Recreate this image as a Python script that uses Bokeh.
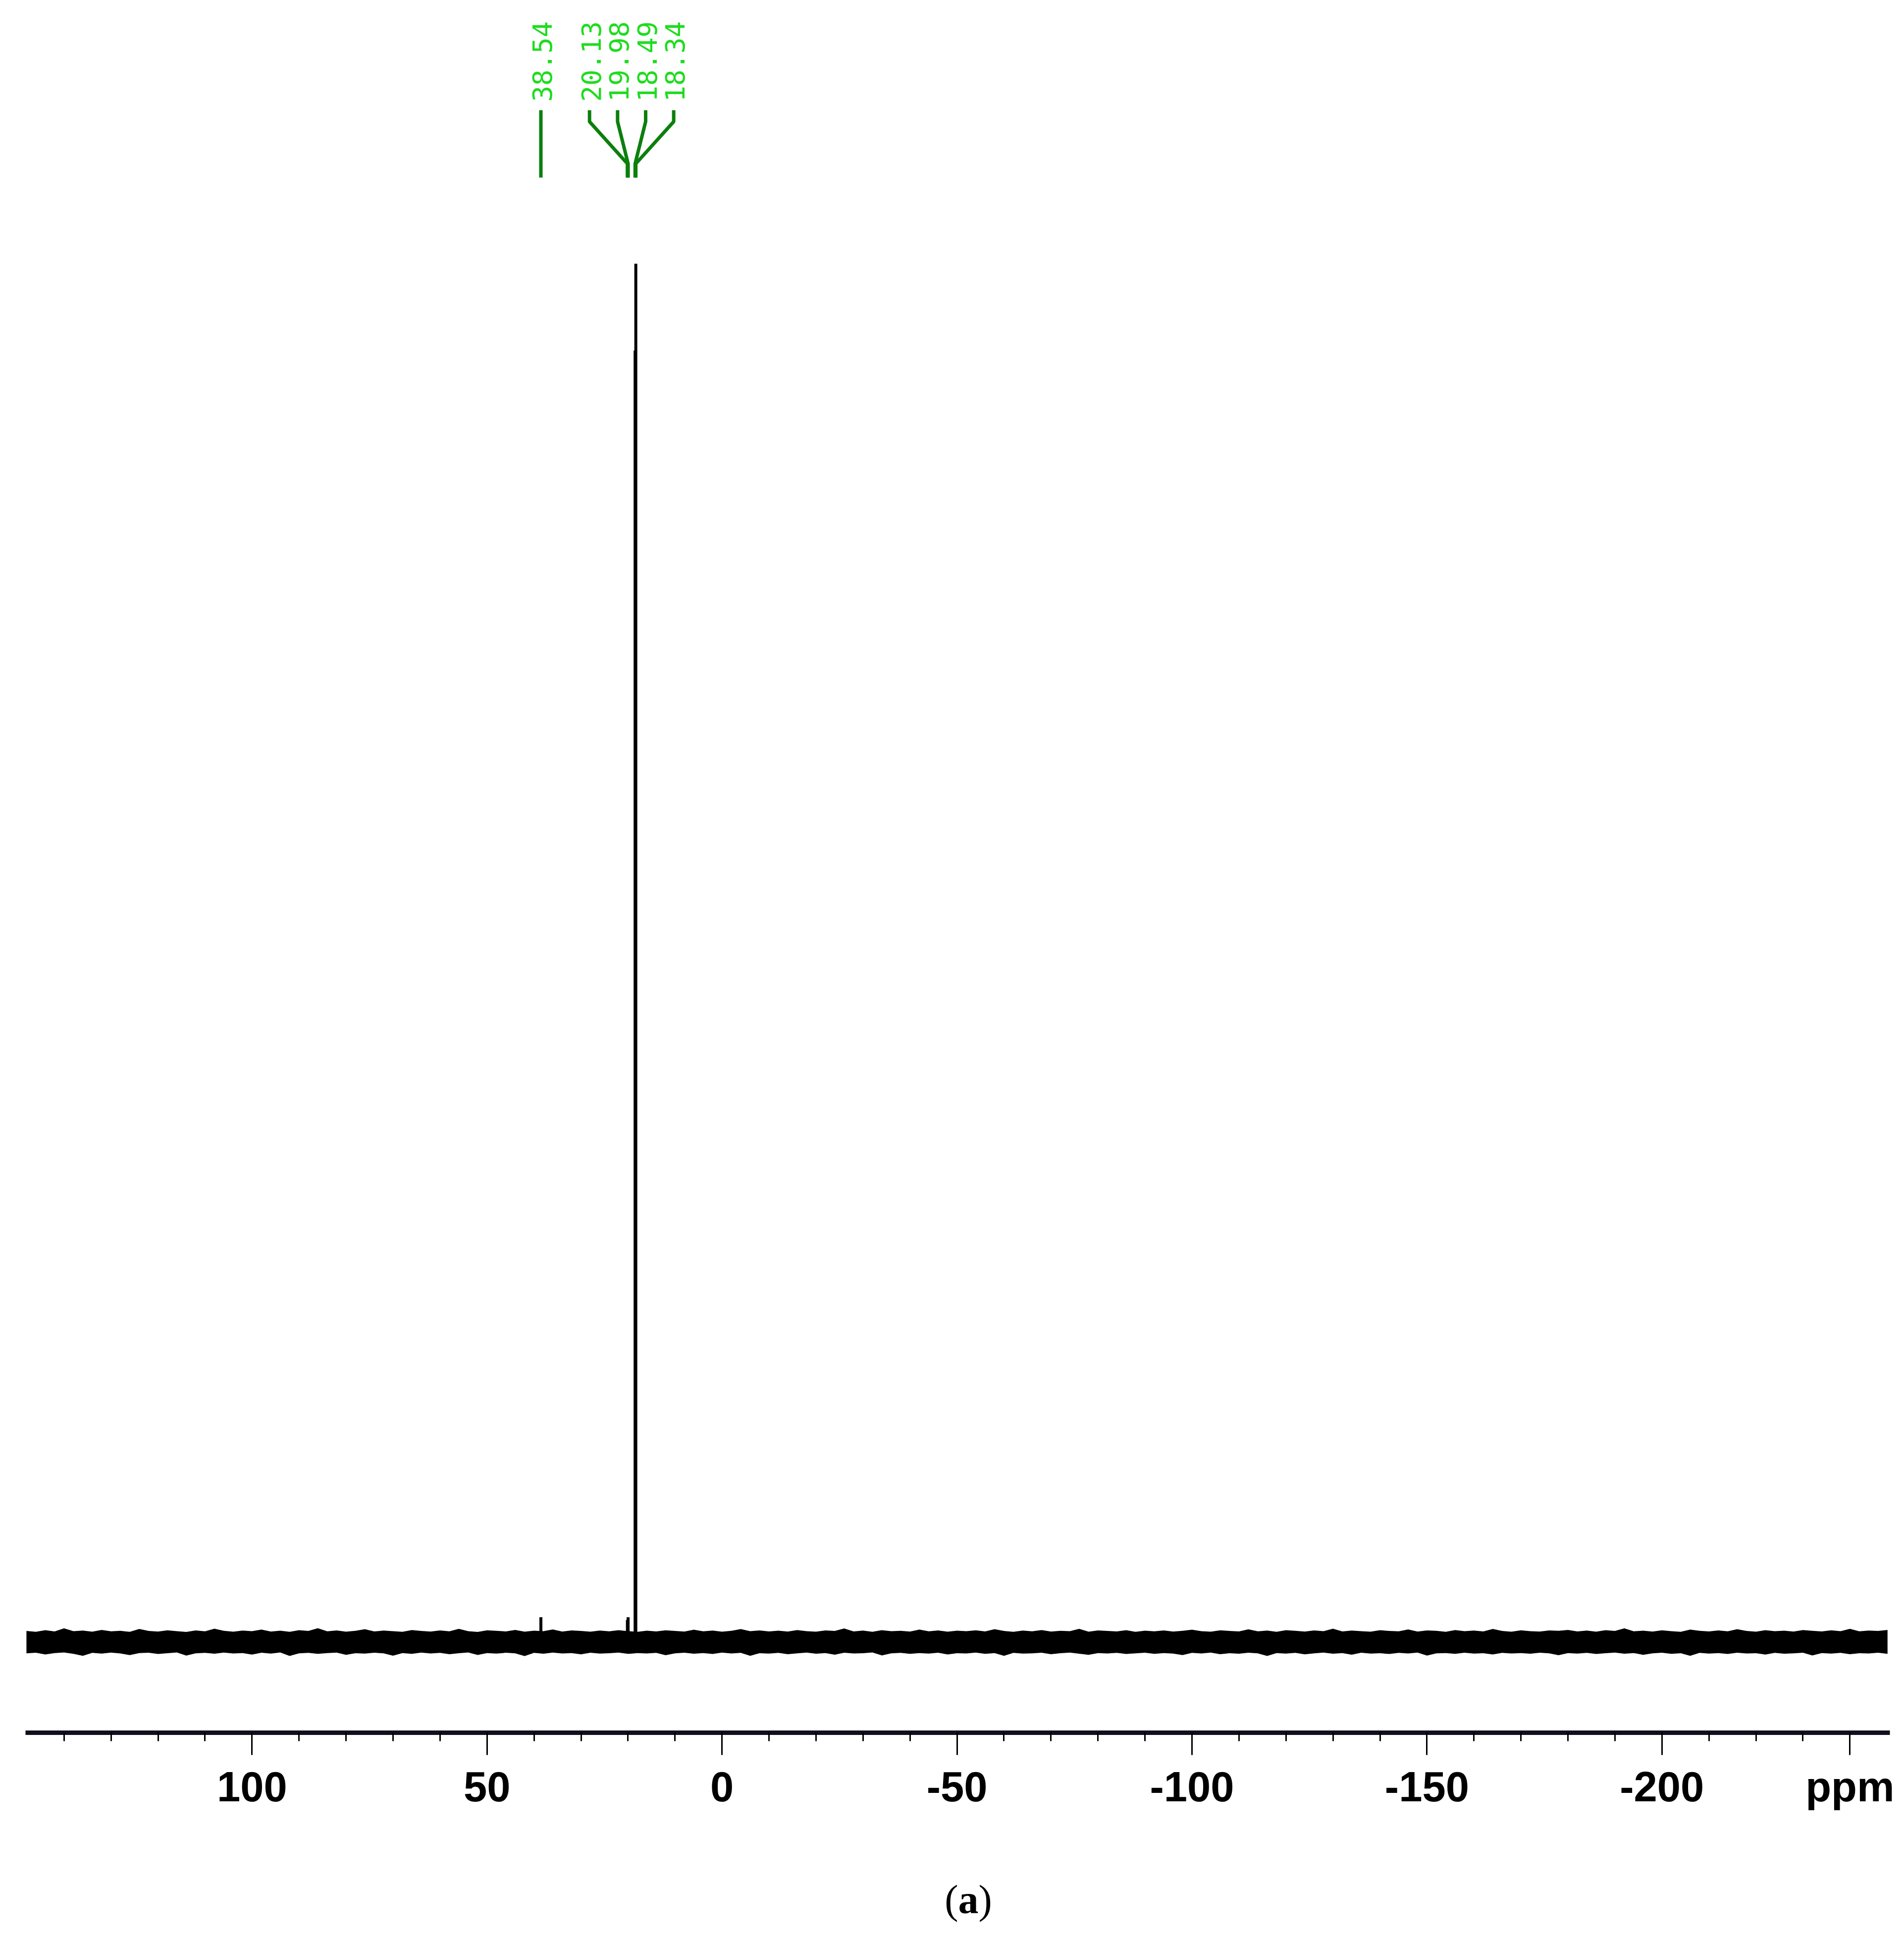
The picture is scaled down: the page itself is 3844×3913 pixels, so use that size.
import numpy as np
from bokeh.plotting import figure
from bokeh.models import Range1d, FixedTicker, Div
from bokeh.layouts import column
from bokeh.core.properties import value
from bokeh.embed import file_html
from bokeh.resources import INLINE

# ---------------- data ----------------
# chemical shift grid (ppm) of the baseline noise envelope
ppm = [148, 146, 144, 142, 140, 138, 136, 134, 132, 130, 128, 126, 124, 122, 120, 118, 116, 114, 112, 110,
       108, 106, 104, 102, 100, 98, 96, 94, 92, 90, 88, 86, 84, 82, 80, 78, 76, 74, 72, 70,
       68, 66, 64, 62, 60, 58, 56, 54, 52, 50, 48, 46, 44, 42, 40, 38, 36, 34, 32, 30,
       28, 26, 24, 22, 20, 18, 16, 14, 12, 10, 8, 6, 4, 2, 0, -2, -4, -6, -8, -10,
       -12, -14, -16, -18, -20, -22, -24, -26, -28, -30, -32, -34, -36, -38, -40, -42, -44, -46, -48, -50,
       -52, -54, -56, -58, -60, -62, -64, -66, -68, -70, -72, -74, -76, -78, -80, -82, -84, -86, -88, -90,
       -92, -94, -96, -98, -100, -102, -104, -106, -108, -110, -112, -114, -116, -118, -120, -122, -124, -126, -128, -130,
       -132, -134, -136, -138, -140, -142, -144, -146, -148, -150, -152, -154, -156, -158, -160, -162, -164, -166, -168, -170,
       -172, -174, -176, -178, -180, -182, -184, -186, -188, -190, -192, -194, -196, -198, -200, -202, -204, -206, -208, -210,
       -212, -214, -216, -218, -220, -222, -224, -226, -228, -230, -232, -234, -236, -238, -240, -242, -244, -246, -248]

noise_upper = [0.80, 0.74, 0.86, 0.77, 0.99, 0.79, 0.83, 0.75, 0.88, 0.78, 0.81, 0.74, 0.95, 0.80, 0.76, 0.85, 0.79, 0.73, 0.84, 0.78,
               0.97, 0.81, 0.75, 0.83, 0.79, 0.90, 0.76, 0.82, 0.74, 0.86, 0.80, 1.00, 0.78, 0.84, 0.75, 0.81, 0.93, 0.77, 0.83, 0.79,
               0.74, 0.87, 0.80, 0.76, 0.84, 0.78, 0.96, 0.79, 0.73, 0.85, 0.81, 0.77, 0.88, 0.75, 0.82, 0.79, 0.91, 0.76, 0.84, 0.80,
               0.75, 0.83, 0.78, 0.86, 0.79, 0.74, 0.82, 0.77, 0.85, 0.80, 0.76, 0.89, 0.78, 0.83, 0.75, 0.81, 0.94, 0.79, 0.84, 0.77,
               0.82, 0.76, 0.87, 0.79, 0.75, 0.84, 0.80, 0.98, 0.77, 0.83, 0.74, 0.86, 0.79, 0.81, 0.76, 0.90, 0.78, 0.84, 0.75, 0.82,
               0.79, 0.85, 0.77, 0.93, 0.80, 0.74, 0.83, 0.78, 0.87, 0.76, 0.81, 0.79, 0.96, 0.75, 0.84, 0.80, 0.77, 0.86, 0.74, 0.82,
               0.78, 0.84, 0.76, 0.81, 0.89, 0.79, 0.75, 0.85, 0.80, 0.77, 0.92, 0.78, 0.83, 0.74, 0.86, 0.81, 0.76, 0.84, 0.79, 0.97,
               0.77, 0.83, 0.79, 0.75, 0.86, 0.80, 0.78, 0.91, 0.76, 0.84, 0.81, 0.74, 0.87, 0.79, 0.83, 0.77, 0.95, 0.80, 0.75, 0.85,
               0.79, 0.76, 0.84, 0.81, 0.88, 0.77, 0.83, 0.75, 0.86, 0.80, 0.99, 0.78, 0.82, 0.76, 0.85, 0.79, 0.74, 0.90, 0.81, 0.77,
               0.84, 0.78, 0.93, 0.80, 0.75, 0.86, 0.79, 0.82, 0.76, 0.87, 0.81, 0.77, 0.85, 0.79, 0.96, 0.78, 0.83, 0.80, 0.88]

noise_lower = [-0.82, -0.78, -0.90, -0.80, -0.76, -0.86, -1.00, -0.79, -0.84, -0.77, -0.83, -0.95, -0.80, -0.78, -0.87, -0.81, -0.76, -0.98, -0.82, -0.79,
               -0.85, -0.77, -0.83, -0.80, -0.91, -0.78, -0.84, -0.76, -1.01, -0.82, -0.79, -0.86, -0.80, -0.77, -0.93, -0.81, -0.84, -0.78, -0.82, -0.99,
               -0.80, -0.86, -0.77, -0.83, -0.79, -0.88, -0.81, -0.76, -0.94, -0.80, -0.84, -0.78, -0.82, -1.02, -0.79, -0.85, -0.77, -0.83, -0.80, -0.89,
               -0.78, -0.84, -0.81, -0.77, -0.86, -0.80, -0.83, -0.79, -0.96, -0.82, -0.78, -0.85, -0.80, -0.87, -0.77, -0.83, -0.79, -1.00, -0.81, -0.84,
               -0.79, -0.88, -0.82, -0.77, -0.85, -0.80, -0.92, -0.78, -0.83, -0.81, -0.76, -0.97, -0.82, -0.79, -0.86, -0.80, -0.84, -0.78, -0.90, -0.81,
               -0.83, -0.77, -0.86, -0.80, -1.00, -0.79, -0.84, -0.82, -0.78, -0.88, -0.81, -0.77, -0.85, -0.93, -0.80, -0.83, -0.79, -0.87, -0.82, -0.78,
               -0.86, -0.80, -0.84, -0.95, -0.79, -0.83, -0.77, -0.88, -0.81, -0.85, -0.78, -0.82, -1.01, -0.80, -0.84, -0.79, -0.89, -0.82, -0.77, -0.85,
               -0.80, -0.92, -0.78, -0.84, -0.81, -0.87, -0.79, -0.83, -0.77, -0.98, -0.82, -0.80, -0.86, -0.78, -0.84, -0.81, -0.90, -0.79, -0.83, -0.80,
               -0.85, -0.78, -0.82, -0.96, -0.80, -0.84, -0.79, -0.87, -0.81, -0.77, -0.85, -0.80, -0.93, -0.82, -0.78, -0.86, -0.81, -1.00, -0.79, -0.84,
               -0.80, -0.87, -0.78, -0.83, -0.81, -0.91, -0.79, -0.85, -0.82, -0.78, -0.97, -0.80, -0.84, -0.79, -0.88, -0.81, -0.83, -0.78, -0.86]

# resolved peaks (ppm) and their heights (relative intensity)
peak_ppm = [38.54, 20.13, 19.98, 18.49, 18.34]
peak_height = [1.8, 1.6, 1.8, 93.7, 100.0]
peak_labels = ["38.54", "20.13", "19.98", "18.49", "18.34"]

major_ticks = [100, 50, 0, -50, -100, -150, -200]
major_tick_labels = ["100", "50", "0", "-50", "-100", "-150", "-200"]
minor_ticks = [140, 130, 120, 110, 90, 80, 70, 60, 40, 30, 20, 10,
               -10, -20, -30, -40, -60, -70, -80, -90, -110, -120, -130, -140,
               -160, -170, -180, -190, -210, -220, -230, -240]
x_unit = "ppm"
caption_letter = "a"

# ---------------- layout constants ----------------
X_LEFT, X_RIGHT = 148.2, -248.5
Y_BOTTOM, Y_TOP = -6.58, 118.83
UNIT_POS = -240          # where the unit label sits along the axis
FIG_W, FIG_H = 3844, 3708

n = min(len(ppm), len(noise_upper), len(noise_lower))

p = figure(width=FIG_W, height=FIG_H, output_backend="svg", toolbar_location=None,
           x_range=Range1d(X_LEFT, X_RIGHT), y_range=Range1d(Y_BOTTOM, Y_TOP),
           y_axis_location=None, min_border_left=51, min_border_right=29,
           min_border_top=8, min_border_bottom=210)
p.outline_line_color = None
p.xgrid.visible = False
p.ygrid.visible = False
p.background_fill_color = "white"
p.border_fill_color = "white"

# baseline noise band
p.varea(x=ppm[:n], y1=noise_lower[:n], y2=noise_upper[:n], fill_color="black")

# peaks
p.segment(x0=peak_ppm, y0=[0] * len(peak_ppm), x1=peak_ppm, y1=peak_height,
          line_color="black", line_width=6)

# peak label leader lines
Y_LINE_TOP, Y_KNEE1, Y_KNEE2, Y_LINE_BOT = 111.14, 110.31, 107.26, 106.25
Y_TEXT = 111.75
SLOT = 5.97
group = peak_ppm[1:]
gmean = sum(group) / len(group)
slots = [peak_ppm[0]] + [gmean + (1.5 - i) * SLOT for i in range(len(group))]
xs, ys = [], []
for s, pk in zip(slots, peak_ppm):
    xs.append([s, s, pk, pk])
    ys.append([Y_LINE_TOP, Y_KNEE1, Y_KNEE2, Y_LINE_BOT])
p.multi_line(xs=xs, ys=ys, line_color="#0c7f0c", line_width=7)

p.text(x=[s - 0.3 for s in slots], y=[Y_TEXT] * len(slots), text=peak_labels,
       angle=np.pi / 2, text_align="left", text_baseline="middle",
       text_font=value("DejaVu Sans Mono"), text_font_size="54px",
       text_color="#1fdc1f")

# x axis
ax = p.xaxis[0]
ax.ticker = FixedTicker(ticks=major_ticks + [UNIT_POS], minor_ticks=minor_ticks)
overrides = {t: lab for t, lab in zip(major_ticks, major_tick_labels)}
overrides[UNIT_POS] = x_unit
ax.major_label_overrides = overrides
ax.axis_line_width = 9
ax.axis_line_color = "#10101c"
ax.major_tick_out = 45
ax.major_tick_in = 0
ax.minor_tick_out = 17
ax.minor_tick_in = 0
ax.major_tick_line_width = 3
ax.minor_tick_line_width = 3
ax.major_tick_line_color = "black"
ax.minor_tick_line_color = "black"
ax.major_label_text_font = "Liberation Sans"
ax.major_label_text_font_style = "bold"
ax.major_label_text_font_size = "85px"
ax.major_label_text_color = "black"
ax.major_label_standoff = 16

cap = Div(text=f"<div style=\"width:{FIG_W}px;text-align:center;text-indent:56px;padding-top:82px;"
               f"font-family:'Liberation Serif',serif;font-size:82px;line-height:1;\">"
               f"(<b>{caption_letter}</b>)</div>",
          width=FIG_W, height=190)

layout = column(p, cap)
open("out.html", "w").write(file_html(layout, INLINE))
